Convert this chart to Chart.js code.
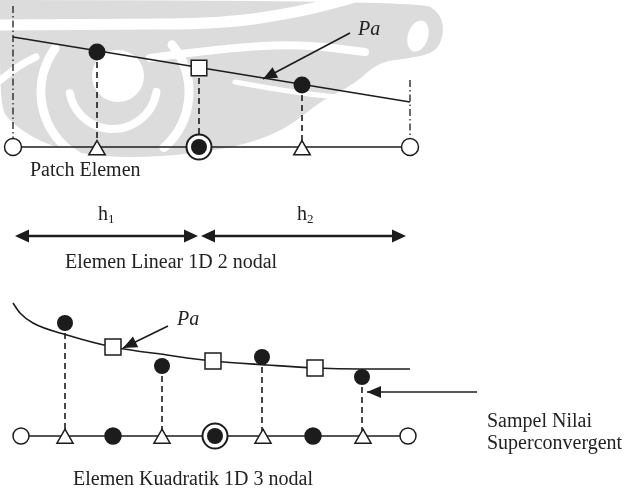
<!DOCTYPE html>
<html><head><meta charset="utf-8">
<script src="https://cdn.jsdelivr.net/npm/chart.js@4.4.1/dist/chart.umd.min.js"></script>
<style>html,body{margin:0;padding:0;background:#fff;}#wrap{width:624px;height:489px;}</style>
</head><body><div id="wrap"><canvas id="c" width="624" height="489"></canvas></div>
<script>
// ---------- DATA (diagram units: x to the right, y downwards) ----------
// Linear element, 1D 2 nodes (top)
const linNodeX = [13, 97, 199, 302, 410];
const linNodeKind = ['end', 'gauss', 'patch', 'gauss', 'end'];
const linBaseY = 147;
const linPaX = [13, 410];
const linPaY = [37, 102];
const linSampleX = [97, 302];
const linSampleY = [52, 85];
const linRecX = [199];
const linRecY = [68];
const linEndX = [13, 410];
const linEndTopY = [6, 80];

// element lengths h1, h2
const dimStartX = [15, 201];
const dimEndX = [198, 406];
const dimY = 236;
const dimSub = ['1', '2'];

// Quadratic element, 1D 3 nodes (bottom)
const quadNodeX = [21, 65, 113, 162, 215, 263, 313, 363, 408];
const quadNodeKind = ['end', 'gauss', 'mid', 'gauss', 'patch', 'gauss', 'mid', 'gauss', 'end'];
const quadBaseY = 436;
const quadCurveX = [13, 20, 33, 67, 113, 167, 213, 267, 315, 360, 410];
const quadCurveY = [303, 313, 323, 335, 347, 355, 361, 365, 368, 369, 369];
const quadSampleX = [65, 162, 262, 362];
const quadSampleY = [323, 366, 357, 377];
const quadRecX = [113, 213, 315];
const quadRecY = [347, 361, 368];

// pointer arrows (tail -> tip)
const ptrTailX = [350, 168, 477];
const ptrTailY = [33, 326, 392];
const ptrTipX = [263, 123, 367];
const ptrTipY = [79, 348, 392];

// text
const labelText = ['Pa', 'Patch Elemen', 'Elemen Linear 1D 2 nodal', 'Pa', 'Sampel Nilai', 'Superconvergent', 'Elemen Kuadratik 1D 3 nodal'];
const labelItalic = [true, false, false, true, false, false, false];
const labelX = [358, 30, 65, 177, 487, 487, 73];
const labelY = [35, 176, 268, 325, 427, 449, 485];
const hLabelX = [98, 297];
const hLabelY = 220;

// background watermark outline (light grey logo)
const wmOutline = [[0,0],[420,0],[441,14],[444,34],[436,52],[412,58],[378,62],[355,84],[322,100],[285,130],[240,146],[190,154],[130,158],[80,154],[40,142],[10,122],[0,106]];

// ---------- STYLE ----------
const INK = '#1c1c1c';
const GREY = '#dcdcdc';
const FONT = '"Liberation Serif", "Times New Roman", serif';

const pts = (xs, ys) => xs.map((v, i) => ({x: v, y: Array.isArray(ys) ? ys[i] : ys}));

// triangle marker sitting slightly below its node (as in the drawing)
function triMarker(r, drop) {
  const c = document.createElement('canvas');
  const S = 28; c.width = S; c.height = S;
  const g = c.getContext('2d');
  const cx = S / 2, cy = S / 2 + drop;
  g.beginPath();
  g.moveTo(cx, cy - r);
  g.lineTo(cx + r * Math.sin(2 * Math.PI / 3), cy + r / 2);
  g.lineTo(cx - r * Math.sin(2 * Math.PI / 3), cy + r / 2);
  g.closePath();
  g.fillStyle = '#fff'; g.fill();
  g.lineWidth = 1.5; g.strokeStyle = INK; g.lineJoin = 'miter'; g.stroke();
  return c;
}
const TRI_TOP = triMarker(9.5, 3);
const TRI_BOT = triMarker(9.3, 2.5);

function nodeStyle(kinds, endR, tri) {
  return {
    pointStyle: kinds.map(k => k === 'gauss' ? tri : 'circle'),
    pointRadius: kinds.map(k => k === 'end' ? endR : k === 'gauss' ? 9 : k === 'patch' ? 12.5 : 8),
    pointBackgroundColor: kinds.map(k => k === 'mid' ? INK : '#fff'),
    pointBorderColor: INK,
    pointBorderWidth: kinds.map(k => k === 'patch' ? 2 : 1.5),
  };
}

const datasets = [];
// dash-dot end lines (top)
linEndX.forEach((xv, i) => datasets.push({
  data: [{x: xv, y: linEndTopY[i]}, {x: xv, y: linBaseY - 9}],
  showLine: true, borderColor: INK, borderWidth: 1.3, borderDash: [7, 3, 1.5, 3], pointRadius: 0, order: 9
}));
// dashed verticals top
[...linSampleX, ...linRecX].forEach((xv, i) => datasets.push({
  data: [{x: xv, y: [...linSampleY, ...linRecY][i]}, {x: xv, y: linBaseY}],
  showLine: true, borderColor: INK, borderWidth: 1.6, borderDash: [6, 4], pointRadius: 0, order: 9
}));
// dashed verticals bottom
quadSampleX.forEach((xv, i) => datasets.push({
  data: [{x: xv, y: quadSampleY[i]}, {x: xv, y: quadBaseY}],
  showLine: true, borderColor: INK, borderWidth: 1.6, borderDash: [6, 4], pointRadius: 0, order: 9
}));
// Pa line (top)
datasets.push({data: pts(linPaX, linPaY), showLine: true, borderColor: INK, borderWidth: 1.6, pointRadius: 0, order: 8});
// Pa curve (bottom)
datasets.push({data: pts(quadCurveX, quadCurveY), showLine: true, borderColor: INK, borderWidth: 1.6, pointRadius: 0, cubicInterpolationMode: 'monotone', order: 8});
// pointer arrow shafts
ptrTailX.forEach((xv, i) => datasets.push({
  data: [{x: xv, y: ptrTailY[i]}, {x: ptrTipX[i], y: ptrTipY[i]}],
  showLine: true, borderColor: INK, borderWidth: 1.6, pointRadius: 0, order: 8
}));
// dimension arrow shafts
dimStartX.forEach((xv, i) => datasets.push({
  data: [{x: xv + 4, y: dimY}, {x: dimEndX[i] - 4, y: dimY}],
  showLine: true, borderColor: INK, borderWidth: 2.6, pointRadius: 0, order: 8
}));
// baselines with nodes
datasets.push(Object.assign({data: pts(linNodeX, linBaseY), showLine: true, borderColor: INK, borderWidth: 1.6, order: 3}, nodeStyle(linNodeKind, 8.5, TRI_TOP)));
datasets.push(Object.assign({data: pts(quadNodeX, quadBaseY), showLine: true, borderColor: INK, borderWidth: 1.6, order: 3}, nodeStyle(quadNodeKind, 8, TRI_BOT)));
// inner dots of patch nodes
datasets.push({data: pts(linNodeX.filter((_, i) => linNodeKind[i] === 'patch'), linBaseY), showLine: false,
  pointRadius: 8, pointBackgroundColor: INK, pointBorderWidth: 0, order: 2});
datasets.push({data: pts(quadNodeX.filter((_, i) => quadNodeKind[i] === 'patch'), quadBaseY), showLine: false,
  pointRadius: 8, pointBackgroundColor: INK, pointBorderWidth: 0, order: 2});
// sample points (filled) and recovered values (squares)
datasets.push({data: pts(linSampleX, linSampleY), showLine: false, pointRadius: 8.5, pointBackgroundColor: INK, pointBorderWidth: 0, order: 1});
datasets.push({data: pts(quadSampleX, quadSampleY), showLine: false, pointRadius: 8, pointBackgroundColor: INK, pointBorderWidth: 0, order: 1});
datasets.push({data: pts(linRecX, linRecY), showLine: false, pointStyle: 'rect', pointRadius: 11, pointBackgroundColor: '#fff', pointBorderColor: INK, pointBorderWidth: 1.5, order: 1});
datasets.push({data: pts(quadRecX, quadRecY), showLine: false, pointStyle: 'rect', pointRadius: 11.3, pointBackgroundColor: '#fff', pointBorderColor: INK, pointBorderWidth: 1.5, order: 1});
datasets.forEach(d => { d.clip = false; });

function head(ctx, tx, ty, fx, fy, L, hw) {
  const a = Math.atan2(ty - fy, tx - fx);
  const c = Math.cos(a), s = Math.sin(a);
  ctx.beginPath();
  ctx.moveTo(tx, ty);
  ctx.lineTo(tx - L * c - hw * s, ty - L * s + hw * c);
  ctx.lineTo(tx - L * c + hw * s, ty - L * s - hw * c);
  ctx.closePath();
  ctx.fill();
}

const extras = {
  id: 'extras',
  beforeDatasetsDraw(chart) {
    const {ctx, scales: {x, y}} = chart;
    const X = v => x.getPixelForValue(v), Y = v => y.getPixelForValue(v);
    ctx.save();
    ctx.fillStyle = GREY;
    ctx.beginPath();
    const o = wmOutline;
    ctx.moveTo(X(o[0][0]), Y(o[0][1]));
    for (let i = 1; i < o.length; i++) {
      const p = o[i], n = o[(i + 1) % o.length];
      ctx.quadraticCurveTo(X(p[0]), Y(p[1]), X((p[0] + n[0]) / 2), Y((p[1] + n[1]) / 2));
    }
    ctx.closePath();
    ctx.fill();
    // white swirls of the watermark
    ctx.strokeStyle = '#fff'; ctx.fillStyle = '#fff'; ctx.lineCap = 'round';
    const stroke = (arr, w) => {
      ctx.lineWidth = w; ctx.beginPath();
      ctx.moveTo(X(arr[0][0]), Y(arr[0][1]));
      for (let i = 1; i < arr.length - 1; i++) {
        ctx.quadraticCurveTo(X(arr[i][0]), Y(arr[i][1]), X((arr[i][0] + arr[i + 1][0]) / 2), Y((arr[i][1] + arr[i + 1][1]) / 2));
      }
      const l = arr[arr.length - 1]; ctx.lineTo(X(l[0]), Y(l[1])); ctx.stroke();
    };
    stroke([[-5, 25], [110, 24], [220, 24], [300, 12], [352, -2]], 11);
    stroke([[150, 58], [225, 48], [300, 44], [365, 52]], 8);
    stroke([[-2, 82], [18, 66], [36, 57]], 7);
    stroke([[235, 82], [290, 92], [345, 98]], 5);
    ctx.beginPath(); ctx.arc(X(118), Y(76), 26, 0, Math.PI * 2); ctx.fill();
    ctx.lineWidth = 8;
    ctx.beginPath(); ctx.arc(X(113), Y(85), 44, 0.05 * Math.PI, 0.94 * Math.PI); ctx.stroke();
    ctx.lineWidth = 9;
    ctx.beginPath(); ctx.arc(X(115), Y(92), 74, 0.67 * Math.PI, 1.2 * Math.PI); ctx.stroke();
    ctx.beginPath(); ctx.arc(X(115), Y(92), 74, -0.22 * Math.PI, 0.27 * Math.PI); ctx.stroke();
    // white inner curl of the hook
    ctx.beginPath(); ctx.ellipse(X(418), Y(36), 10, 16, 0.3, 0, Math.PI * 2); ctx.fill();
    ctx.restore();
  },
  afterDatasetsDraw(chart) {
    const {ctx, scales: {x, y}} = chart;
    const X = v => x.getPixelForValue(v), Y = v => y.getPixelForValue(v);
    ctx.save();
    ctx.fillStyle = INK;
    ptrTipX.forEach((tx, i) => head(ctx, X(tx), Y(ptrTipY[i]), X(ptrTailX[i]), Y(ptrTailY[i]), 14, 6));
    dimStartX.forEach((sx, i) => {
      head(ctx, X(sx), Y(dimY), X(dimEndX[i]), Y(dimY), 14, 6.5);
      head(ctx, X(dimEndX[i]), Y(dimY), X(sx), Y(dimY), 14, 6.5);
    });
    ctx.fillStyle = '#222';
    ctx.textBaseline = 'alphabetic';
    labelText.forEach((t, i) => {
      ctx.font = (labelItalic[i] ? 'italic ' : '') + '20px ' + FONT;
      ctx.fillText(t, X(labelX[i]), Y(labelY[i]));
    });
    hLabelX.forEach((hx, i) => {
      ctx.font = '20px ' + FONT;
      ctx.fillText('h', X(hx), Y(hLabelY));
      const w = ctx.measureText('h').width;
      ctx.font = '13px ' + FONT;
      ctx.fillText(dimSub[i], X(hx) + w, Y(hLabelY + 3));
    });
    ctx.restore();
  }
};

new Chart(document.getElementById('c'), {
  type: 'scatter',
  data: {datasets},
  options: {
    responsive: false, animation: false, devicePixelRatio: 1,
    layout: {padding: 0, autoPadding: false},
    plugins: {legend: {display: false}, tooltip: {enabled: false}},
    events: [],
    scales: {
      x: {type: 'linear', min: 0, max: 624, display: false},
      y: {type: 'linear', min: 0, max: 489, reverse: true, display: false}
    }
  },
  plugins: [extras]
});
</script>
</body></html>
